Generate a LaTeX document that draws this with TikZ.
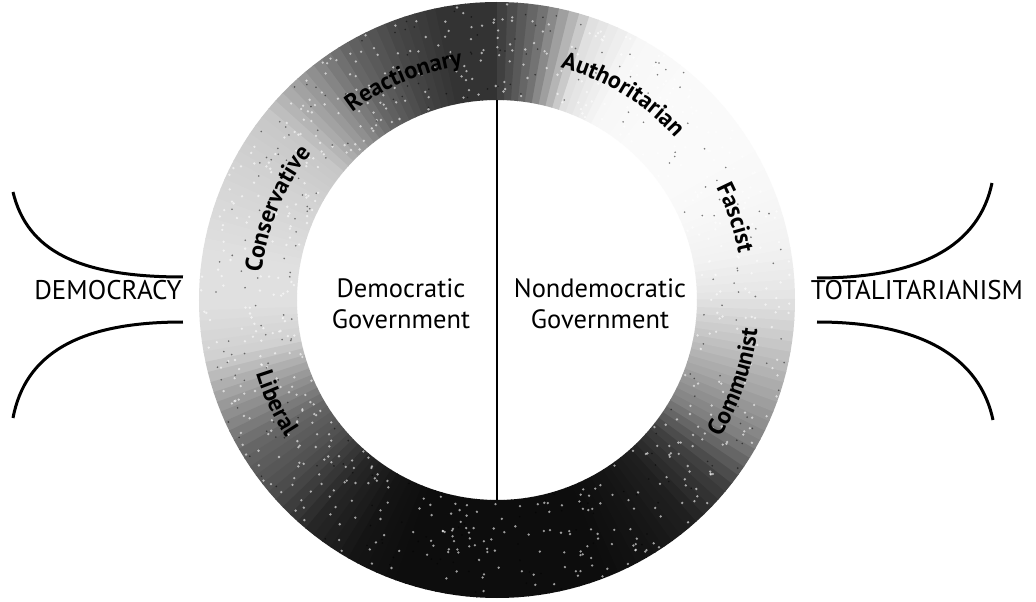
\documentclass[tikz,border=0pt]{standalone}
\usepackage{fontspec}
\setmainfont{PT Sans}
\usetikzlibrary{decorations.text}

\newcommand{\labfont}{\fontsize{26.5}{31}\selectfont}
\newcommand{\sidefont}{\fontsize{27}{31}\selectfont}
\newcommand{\ringfont}{\fontsize{24}{28}\selectfont\bfseries}

\tikzset{
  bracket/.style={line width=3pt},
  govlabel/.style={font=\labfont, align=center},
  endlabel/.style={font=\sidefont, anchor=base},
  ringlabel/.style={decorate, decoration={text along path, text align=center, text={|\ringfont|#1}}},
}

\begin{document}
\begin{tikzpicture}[x=1pt,y=1pt]
\fill[white] (-497,-302) rectangle (539,300);
\useasboundingbox (-497,-302) rectangle (539,300);

% ring, darkness by angle (every 10 degrees, filled in 2 degree steps)
\foreach \a/\ga/\gb in {0/10/5, 10/5/3, 20/3/2, 30/2/2, 40/2/2, 50/2/3, 60/3/12,
    70/12/55, 80/55/80, 90/80/80, 100/80/72, 110/72/60, 120/60/40, 130/40/22,
    140/22/18, 150/18/15, 160/15/12, 170/12/12, 180/12/18, 190/18/40, 200/40/60,
    210/60/70, 220/70/85, 230/85/92, 240/92/95, 250/95/95, 260/95/95, 270/95/95,
    280/95/95, 290/95/92, 300/92/88, 310/88/75, 320/75/50, 330/50/35, 340/35/22,
    350/22/10}{
  \foreach \k in {0,...,4}{
    \pgfmathsetmacro{\s}{\a+2*\k}
    \pgfmathsetmacro{\g}{\ga+(\gb-\ga)*\k/5}
    \fill[black!\g] (\s:200) -- (\s:298) arc[start angle=\s, end angle=\s+2.2, radius=298]
      -- ({\s+2.2}:200) arc[start angle=\s+2.2, end angle=\s, radius=200] -- cycle;
  }
}
% grain
\pgfmathsetseed{7}
\foreach \i in {1,...,700}{
  \pgfmathsetmacro{\t}{rnd*360}
  \pgfmathsetmacro{\r}{202+rnd*94}
  \fill[white, opacity=0.6] (\t:\r) circle (1.3);
}
\foreach \i in {1,...,250}{
  \pgfmathsetmacro{\t}{rnd*360}
  \pgfmathsetmacro{\r}{202+rnd*94}
  \fill[black, opacity=0.5] (\t:\r) circle (0.9);
}

% dividing line
\coordinate (linetop) at (90:200);
\coordinate (linebot) at (270:200);
\draw[line width=1.6pt] (linetop) -- (linebot);

% labels on the ring
\path[ringlabel=Conservative] (187.5:237) arc[start angle=187.5, end angle=127.5, radius=237];
\path[ringlabel=Reactionary] (143:237) arc[start angle=143, end angle=83, radius=237];
\path[ringlabel=Authoritarian] (88.5:241) arc[start angle=88.5, end angle=28.5, radius=241];
\path[ringlabel=Fascist] (49:246) arc[start angle=49, end angle=-11, radius=246];
\path[ringlabel=Communist] (-49:262) arc[start angle=-49, end angle=11, radius=262];
\path[ringlabel=Liberal] (175:252) arc[start angle=175, end angle=235, radius=252];

% inside
\node[govlabel] (demgov) at (-96,-4) {Democratic\\Government};
\node[govlabel] (nondemgov) at (103,-4) {Nondemocratic\\Government};

% ends
\node[endlabel] (democ) at (-389,0) {DEMOCRACY};
\node[endlabel] (total) at (420,0) {TOTALITARIANISM};

\coordinate (dtop) at (-484,108);
\coordinate (dtopin) at (-314,23);
\coordinate (dbotin) at (-314,-22);
\coordinate (dbot) at (-484,-118);
\coordinate (ttopin) at (320,22);
\coordinate (ttop) at (495,117);
\coordinate (tbotin) at (320,-22);
\coordinate (tbot) at (496,-120);

\draw[bracket] (dtop) .. controls (-470,50) and (-420,23) .. (dtopin);
\draw[bracket] (dbotin) .. controls (-420,-22) and (-472,-55) .. (dbot);
\draw[bracket] (ttopin) .. controls (425,22) and (482,55) .. (ttop);
\draw[bracket] (tbotin) .. controls (425,-22) and (483,-58) .. (tbot);
\end{tikzpicture}
\end{document}
